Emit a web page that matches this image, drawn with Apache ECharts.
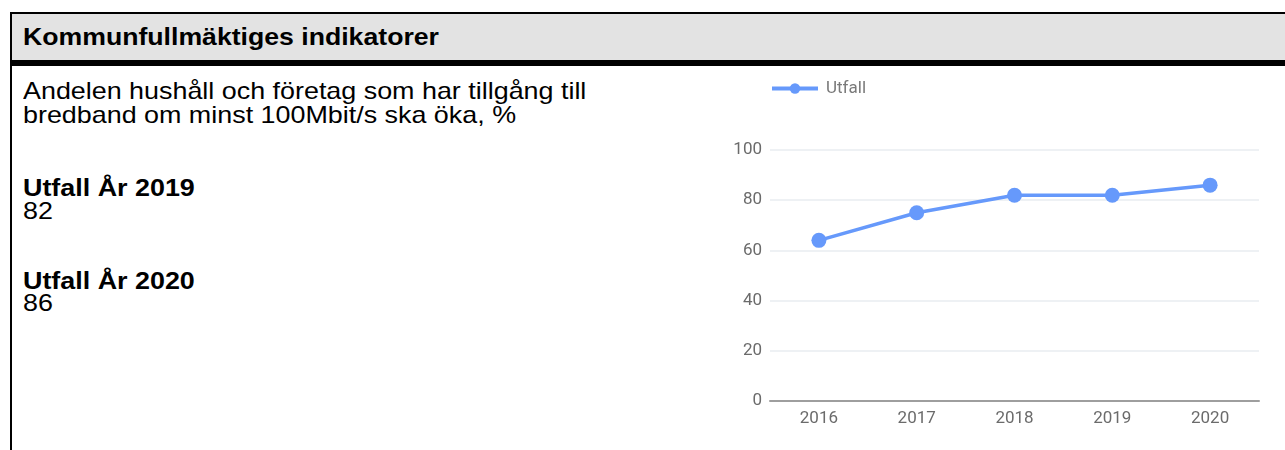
<!DOCTYPE html>
<html>
<head>
	<meta charset="utf-8">
	<title>indikatorer</title>
	<style type="text/css">
	body{
		margin: 0;
		width: 1285px;
		height: 450px;
		overflow: hidden;
		background: #fff;
		font-family: "Liberation Sans", Arial, sans-serif;
	}
	.box{
		position: absolute;
		left: 10px;
		top: 12px;
		width: 1290px;
		height: 460px;
		border-left: 2px solid #000;
		border-top: 2px solid #000;
	}
	.head{
		height: 46px;
		background: #e3e3e3;
		border-bottom: 6px solid #000;
	}
	.head span{
		position: absolute;
		left: 11px;
		top: 0;
		font-weight: bold;
		font-size: 24px;
		line-height: 46px;
		white-space: nowrap;
		transform: scaleX(1.11);
		transform-origin: 0 50%;
	}
	.ln{
		position: absolute;
		left: 23px;
		font-size: 24px;
		line-height: 29px;
		color: #000;
		white-space: nowrap;
		transform: scaleX(1.12);
		transform-origin: 0 50%;
	}
	.b{ font-weight: bold; }
	#chart{
		position: absolute;
		left: 700px;
		top: 66px;
		width: 585px;
		height: 384px;
	}
	</style>
</head>
<body>
	<div class="box">
		<div class="head"><span>Kommunfullmäktiges indikatorer</span></div>
	</div>
	<div class="ln" style="top:76px;">Andelen hushåll och företag som har tillgång till</div>
	<div class="ln" style="top:100px;">bredband om minst 100Mbit/s ska öka, %</div>
	<div class="ln b" style="top:173px;">Utfall År 2019</div>
	<div class="ln" style="top:196px;">82</div>
	<div class="ln b" style="top:266px;">Utfall År 2020</div>
	<div class="ln" style="top:288px;">86</div>
	<div id="chart"></div>

	<script src="https://cdn.jsdelivr.net/npm/echarts@6/dist/echarts.min.js"></script>
	<script type="text/javascript">
	var years = ['2016', '2017', '2018', '2019', '2020'];
	var utfall = [64, 75, 82, 82, 86];
	var yTicks = [0, 20, 40, 60, 80, 100];

	var myChart = echarts.init(document.getElementById('chart'));
	var option = {
		animation: false,
		textStyle: { fontFamily: 'Roboto, "Noto Sans", sans-serif' },
		legend: {
			left: 65,
			top: 9,
			itemWidth: 46,
			itemHeight: 13,
			itemGap: 8,
			lineStyle: { width: 4 },
			textStyle: { color: '#7a7a7a', fontSize: 17, padding: [0, 0, 0, 3] },
			data: ['Utfall']
		},
		grid: {
			left: 70,
			right: 26,
			top: 84,
			bottom: 49
		},
		xAxis: {
			type: 'category',
			data: years,
			boundaryGap: true,
			axisLine: { lineStyle: { color: '#9e9e9e', width: 2 } },
			axisTick: { show: false },
			axisLabel: { color: '#6b6b6b', fontSize: 17, margin: 9 }
		},
		yAxis: {
			type: 'value',
			min: yTicks[0],
			max: yTicks[yTicks.length - 1],
			interval: 20,
			axisLine: { show: false },
			axisTick: { show: false },
			axisLabel: { color: '#6b6b6b', fontSize: 17, margin: 8 },
			splitLine: { lineStyle: { color: '#e8ecf1', width: 1.5 } }
		},
		series: [
			{
				name: 'Utfall',
				type: 'line',
				data: utfall,
				symbol: 'circle',
				symbolSize: 15,
				itemStyle: { color: '#6699fb' },
				lineStyle: { color: '#6699fb', width: 3.5 }
			}
		]
	};
	myChart.setOption(option);
	</script>
</body>
</html>
